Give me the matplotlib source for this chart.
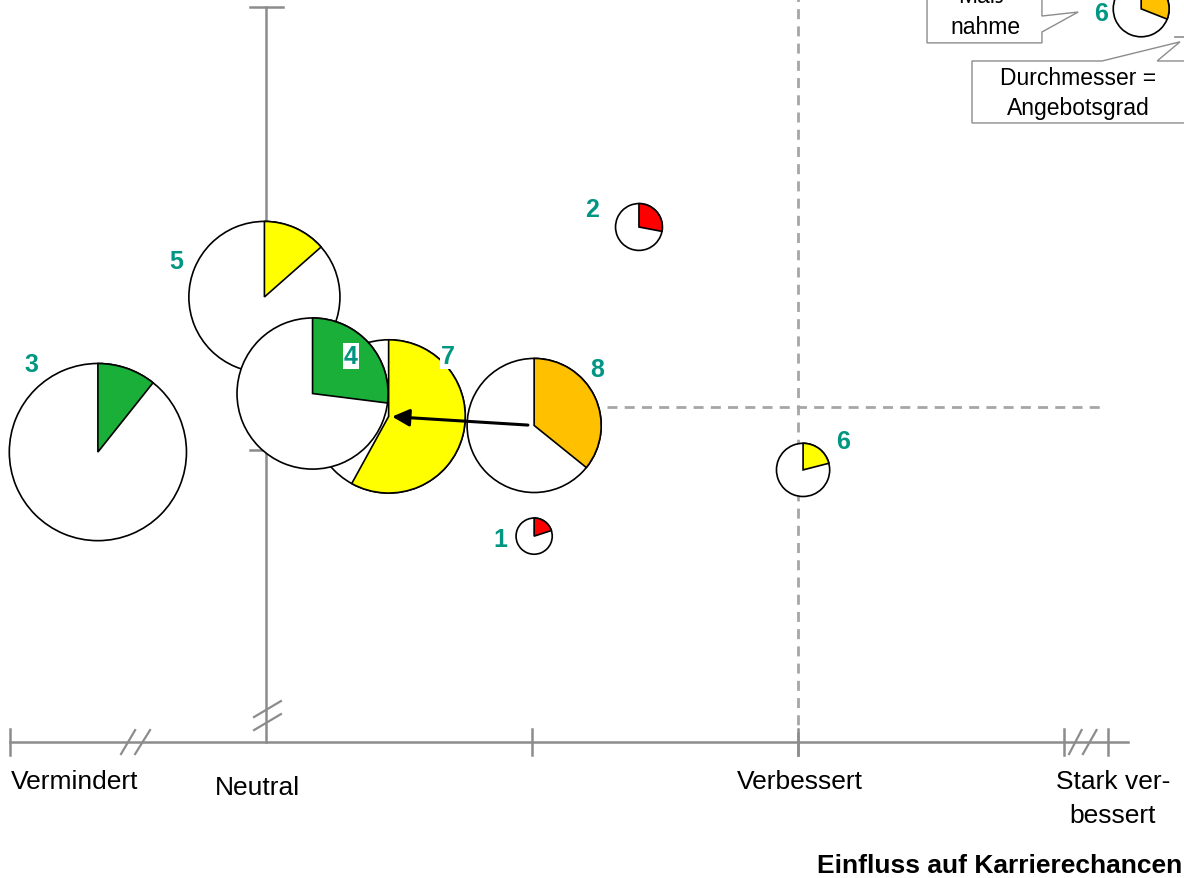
import matplotlib
matplotlib.use("Agg")
import matplotlib.pyplot as plt
from matplotlib.patches import Wedge, Polygon

plt.rcParams['font.family'] = ['Liberation Sans', 'DejaVu Sans']

# chart units: Neutral = 0, Verbessert = 2 on x; baseline = 0 on y
# pies: number, centre, radius (diameter = Angebotsgrad), filled share, colour
pie_ids = ["1", "2", "3", "4", "5", "6", "7", "8"]
pie_x = [1.008, 1.402, -0.632, 0.175, -0.006, 2.019, 0.461, 1.008]
pie_y = [0.774, 1.936, 1.090, 1.310, 1.673, 1.023, 1.224, 1.190]
pie_r = [0.068, 0.088, 0.333, 0.284, 0.284, 0.100, 0.288, 0.252]
pie_share = [0.20, 0.28, 0.107, 0.27, 0.135, 0.21, 0.58, 0.358]
pie_colors = ["#FF0000", "#FF0000", "#1AAF38", "#1AAF38", "#FFFF00",
              "#FFFF00", "#FFFF00", "#FFC000"]
draw_order = [2, 4, 6, 3, 7, 1, 0, 5]  # indices, back to front

# label offsets from pie centre (points)
label_dx = [-24.5, -33.8, -47.5, 27.7, -63.7, 28.8, 42.8, 45.4]
label_dy = [-2.2, 13.0, 63.4, 27.0, 25.9, 20.9, 43.6, 40.7]

# x-axis categories
x_ticks = [-0.962, 1.0, 2.0, 3.0, 3.165]
x_labels = ["Vermindert", "Neutral", "Verbessert", "Stark ver-\nbessert"]
x_label_pos = [-0.718, -0.034, 2.008, 3.184]
x_label_y = [-0.147, -0.169, -0.147, -0.211]
x_axis_end = 3.241
y_axis_top = 2.763
y_tick = 1.098
x_title = "Einfluss auf Karrierechancen"

# dashed reference lines
ref_x = 2.0
ref_y = 1.259
ref_y_span = [1.282, 3.154]

# legend pie
legend_x, legend_y, legend_r, legend_share = 3.290, 2.756, 0.105, 0.31

teal = "#009682"
gray = "#8C8C8C"
dash_gray = "#A6A6A6"

fig = plt.figure(figsize=(11.84, 8.79), dpi=100)
ax = fig.add_axes([0, 0, 1, 1])
ax.set_xlim(-1.0, 3.451)
ax.set_ylim(-0.511, 2.793)
ax.axis('off')

# axes
ax.plot([x_ticks[0], x_axis_end], [0, 0], color=gray, lw=1.8, zorder=1)
ax.plot([0, 0], [0, y_axis_top], color=gray, lw=1.8, zorder=1)
ax.plot([-0.06, 0.064], [y_axis_top, y_axis_top], color=gray, lw=1.8, zorder=1)
ax.plot([-0.06, 0], [y_tick, y_tick], color=gray, lw=1.8, zorder=1)
for xt in x_ticks:
    ax.plot([xt, xt], [-0.049, 0.049], color=gray, lw=1.8, zorder=1)
ax.plot([ref_x, ref_x], [-0.049, 0.0], color=gray, lw=1.8, zorder=1)

# axis breaks
for x0, x1 in [(-0.545, -0.492), (-0.492, -0.436), (3.019, 3.066), (3.071, 3.122)]:
    ax.plot([x0, x1], [-0.045, 0.045], color=gray, lw=1.6, zorder=1)
for y0, y1 in [(0.045, 0.105), (0.094, 0.154)]:
    ax.plot([-0.045, 0.056], [y0, y1], color=gray, lw=1.6, zorder=1)

# dashed lines
ax.plot([ref_x, ref_x], [0, 2.9], color=dash_gray, lw=2.0,
        dashes=(3.6, 2.6), zorder=0.5)
ax.plot(ref_y_span, [ref_y, ref_y], color=dash_gray, lw=2.0,
        dashes=(3.6, 2.6), zorder=0.5)


def draw_pie(x, y, r, share, color, z):
    ax.add_patch(Wedge((x, y), r, 0, 360, facecolor='white',
                       edgecolor='black', lw=1.2, zorder=z))
    ax.add_patch(Wedge((x, y), r, 90 - 360 * share, 90, facecolor=color,
                       edgecolor='black', lw=1.2, zorder=z + 0.1))


for z, i in enumerate(draw_order):
    draw_pie(pie_x[i], pie_y[i], pie_r[i], pie_share[i], pie_colors[i], 2 + z)

for i, num in enumerate(pie_ids):
    ax.annotate(num, (pie_x[i], pie_y[i]), xytext=(label_dx[i], label_dy[i]),
                textcoords='offset points', ha='center', va='center',
                fontsize=18, fontweight='bold', color=teal, zorder=20,
                bbox=dict(facecolor='white', edgecolor='none', pad=0.5))

# arrow from 8 to 7
ax.annotate('', xy=(pie_x[6], pie_y[6]), xytext=(pie_x[7], pie_y[7]),
            arrowprops=dict(arrowstyle='-|>', color='black', lw=2.2,
                            mutation_scale=26, shrinkA=4.5, shrinkB=2.5),
            zorder=15)

# x labels
for xl, yl, txt in zip(x_label_pos, x_label_y, x_labels):
    ax.text(xl, yl, txt, ha='center', va='center', fontsize=19,
            linespacing=1.5)
ax.text(3.444, -0.462, x_title, ha='right', va='center', fontsize=19,
        fontweight='bold')

# legend: callouts
box1 = Polygon([(2.485, 2.628), (2.917, 2.628), (2.917, 2.669), (3.053, 2.744),
                (2.917, 2.729), (2.917, 2.85), (2.485, 2.85)],
               closed=True, facecolor='white', edgecolor=gray, lw=1.0, zorder=3)
ax.add_patch(box1)
ax.text(2.703, 2.748, "Maß-\nnahme", ha='center', va='center', fontsize=16.5,
        linespacing=1.4, zorder=4)

box2 = Polygon([(2.654, 2.560), (3.143, 2.560), (3.436, 2.632), (3.350, 2.560),
                (3.48, 2.560), (3.48, 2.327), (2.654, 2.327)],
               closed=True, facecolor='white', edgecolor=gray, lw=1.0, zorder=3)
ax.add_patch(box2)
ax.text(3.053, 2.442, "Durchmesser =\nAngebotsgrad", ha='center', va='center',
        fontsize=16.5, linespacing=1.4, zorder=4)

draw_pie(legend_x, legend_y, legend_r, legend_share, "#FFC000", 5)
ax.annotate("6", (legend_x, legend_y), xytext=(-28.8, -3.2),
            textcoords='offset points', ha='center', va='center',
            fontsize=18, fontweight='bold', color=teal, zorder=20)
ax.plot([3.417, 3.451], [2.650, 2.650], color=gray, lw=1.2, zorder=5)

fig.savefig("out.png", dpi=100)
